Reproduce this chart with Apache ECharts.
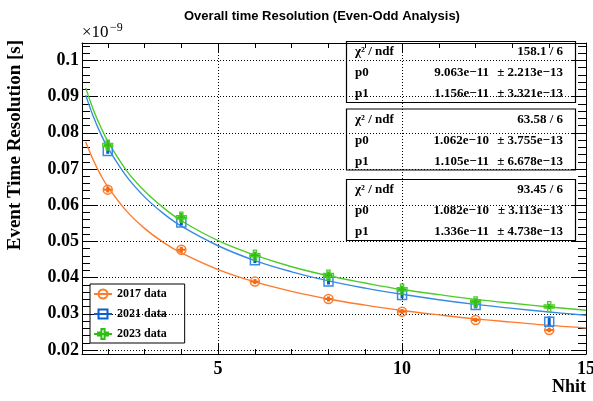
<!DOCTYPE html>
<html>
<head>
<meta charset="utf-8">
<script src="https://cdn.jsdelivr.net/npm/echarts@6/dist/echarts.min.js"></script>
<style>
  html, body { margin: 0; padding: 0; background: #fff; }
  #chart { width: 593px; height: 401px; }
</style>
</head>
<body>
<div id="chart"></div>
<script>
// measured points (x1e-9 s)
const nhit = [2, 4, 6, 8, 10, 12, 14];
const res2017 = [0.0643, 0.0477, 0.0389, 0.0341, 0.0306, 0.0283, 0.0255];
const res2021 = [0.0750, 0.0552, 0.0448, 0.0389, 0.0352, 0.0324, 0.0278];
const res2023 = [0.0766, 0.0567, 0.0462, 0.0407, 0.0368, 0.0333, 0.0320];
const err2017 = [0.0008, 0.0008, 0.0007, 0.0007, 0.0007, 0.0006, 0.0006];
const err2021 = [0.0008, 0.0008, 0.0008, 0.0008, 0.0009, 0.0009, 0.0015];
const err2023 = [0.0013, 0.0012, 0.0010, 0.0010, 0.0010, 0.0010, 0.0008];

// fitted curves
const fitX = [1.4, 1.6, 1.8, 2, 2.5, 3, 3.5, 4, 5, 6, 7, 8, 9, 10, 11, 12, 13, 14, 15];
const fit2017 = [0.0775, 0.0726, 0.0685, 0.0651, 0.0585, 0.0536, 0.0498, 0.0468, 0.0422, 0.0388, 0.0362, 0.0341, 0.0324, 0.0309, 0.0297, 0.0286, 0.0277, 0.0268, 0.0261];
const fit2021 = [0.0904, 0.0847, 0.0799, 0.0759, 0.0681, 0.0623, 0.0578, 0.0542, 0.0488, 0.0447, 0.0416, 0.0391, 0.0371, 0.0354, 0.0339, 0.0326, 0.0315, 0.0305, 0.0296];
const fit2023 = [0.0924, 0.0866, 0.0818, 0.0777, 0.0697, 0.0639, 0.0594, 0.0557, 0.0502, 0.0462, 0.0430, 0.0405, 0.0385, 0.0367, 0.0353, 0.0340, 0.0329, 0.0319, 0.0310];

// stat boxes
const chi2Ndf = ['158.1 / 6', '63.58 / 6', '93.45 / 6'];
const p0Val = ['9.063e\u221211', '1.062e\u221210', '1.082e\u221210'];
const p0Err = ['\u00b1 2.213e\u221213', '\u00b1 3.755e\u221213', '\u00b1 3.113e\u221213'];
const p1Val = ['1.156e\u221211', '1.105e\u221211', '1.336e\u221211'];
const p1Err = ['\u00b1 3.321e\u221213', '\u00b1 6.678e\u221213', '\u00b1 4.738e\u221213'];

// axis ticks
const xMajor = [5, 10, 15];
const xMinor = [2, 3, 4, 6, 7, 8, 9, 11, 12, 13, 14];
const yMajor = [0.02, 0.03, 0.04, 0.05, 0.06, 0.07, 0.08, 0.09, 0.1];
const yMinor = [];
for (let i = 10; i <= 52; i++) {
  if (i % 5 !== 0) yMinor.push(+(i * 0.002).toFixed(3));
}

const ORANGE = '#ff7b2c', ORANGE_D = '#f26a10';
const BLUE = '#3a8ae4', BLUE_D = '#0a5fcc';
const GREEN = '#4ccc2a', GREEN_D = '#2fbf10';
const SERIF = 'Liberation Serif';

const X_MIN = 1.3, X_MAX = 15, Y_MIN = 0.0189, Y_MAX = 0.1048;

function pointRenderer(kind, color, dark) {
  return function (params, api) {
    const x = api.value(0), y = api.value(1), e = api.value(2);
    const c = api.coord([x, y]);
    const top = api.coord([x, y + e])[1];
    const bot = api.coord([x, y - e])[1];
    const kids = [{
      type: 'line',
      shape: { x1: c[0], y1: top, x2: c[0], y2: bot },
      style: { stroke: dark, lineWidth: 3 }
    }];
    if (kind === 'circle') {
      kids.push({ type: 'line', shape: { x1: c[0] - 4, y1: c[1], x2: c[0] + 4, y2: c[1] }, style: { stroke: dark, lineWidth: 2 } });
      kids.push({ type: 'circle', shape: { cx: c[0], cy: c[1], r: 4.5 }, style: { fill: 'none', stroke: color, lineWidth: 1.5 } });
    } else if (kind === 'square') {
      kids.push({ type: 'rect', shape: { x: c[0] - 4.5, y: c[1] - 4.5, width: 9, height: 9 }, style: { fill: 'none', stroke: color, lineWidth: 1.5 } });
    } else {
      const a = 1.6, b = 5;
      const pts = [[-a, -b], [a, -b], [a, -a], [b, -a], [b, a], [a, a], [a, b], [-a, b], [-a, a], [-b, a], [-b, -a], [-a, -a]]
        .map(p => [c[0] + p[0], c[1] + p[1]]);
      kids.push({ type: 'line', shape: { x1: c[0] - 4, y1: c[1], x2: c[0] + 4, y2: c[1] }, style: { stroke: dark, lineWidth: 2 } });
      kids.push({ type: 'polygon', shape: { points: pts }, style: { fill: 'none', stroke: color, lineWidth: 1.3 } });
    }
    return { type: 'group', children: kids };
  };
}

function pointData(ys, errs) {
  return nhit.map((x, i) => [x, ys[i], errs[i]]);
}
function curveData(ys) {
  return fitX.map((x, i) => [x, ys[i]]);
}

function fitSeries(name, ys, color) {
  return {
    name: name,
    type: 'line',
    data: curveData(ys),
    smooth: 0.4,
    showSymbol: false,
    silent: true,
    lineStyle: { color: color, width: 1.4 },
    z: 2
  };
}

function dataSeries(name, ys, errs, kind, color, dark) {
  return {
    name: name,
    type: 'custom',
    data: pointData(ys, errs),
    encode: { x: 0, y: 1 },
    renderItem: pointRenderer(kind, color, dark),
    itemStyle: { color: color },
    z: 3
  };
}

// stat boxes on the right
const boxTops = [41, 108.5, 179];
const statFont = 'bold 13px "' + SERIF + '"';
const statGraphics = [];
boxTops.forEach((t, i) => {
  statGraphics.push({
    type: 'rect',
    shape: { x: 346.5, y: t + 0.5, width: 229, height: 61 },
    style: { fill: 'none', stroke: '#000', lineWidth: 1.2 }
  });
  const rows = [
    ['\u03c7\u00b2 / ndf', null, chi2Ndf[i]],
    ['p0', p0Val[i], p0Err[i]],
    ['p1', p1Val[i], p1Err[i]]
  ];
  rows.forEach((r, k) => {
    const cy = t + 11 + k * 21;
    statGraphics.push({ type: 'text', style: { text: r[0], x: 355, y: cy, font: statFont, fill: '#000', align: 'left', verticalAlign: 'middle' } });
    if (r[1]) {
      statGraphics.push({ type: 'text', style: { text: r[1], x: 489, y: cy, font: statFont, fill: '#000', align: 'right', verticalAlign: 'middle' } });
    }
    statGraphics.push({ type: 'text', style: { text: r[2], x: 563, y: cy, font: statFont, fill: '#000', align: 'right', verticalAlign: 'middle' } });
  });
});

const dotted = { color: '#000', width: 1, type: [1, 2] };

const option = {
  animation: false,
  backgroundColor: '#fff',
  title: {
    text: 'Overall time Resolution (Even-Odd Analysis)',
    left: 179,
    top: 5,
    textStyle: { fontFamily: 'Liberation Sans', fontWeight: 'bold', fontSize: 13, color: '#000' }
  },
  grid: { left: 82, right: 7, top: 43, bottom: 47, containLabel: false, outerBoundsMode: 'none' },
  legend: {
    left: 90,
    top: 284,
    orient: 'vertical',
    selectedMode: false,
    borderColor: '#000',
    borderWidth: 1,
    padding: [4, 18, 3, 3],
    itemWidth: 18,
    itemHeight: 12,
    itemGap: 8,
    textStyle: { fontFamily: SERIF, fontWeight: 'bold', fontSize: 12, color: '#000', lineHeight: 12 },
    data: [
      { name: '2017 data', icon: 'path://M0,6H18M13.5,6A4.5,4.5,0,1,1,4.5,6A4.5,4.5,0,1,1,13.5,6', itemStyle: { color: 'rgba(0,0,0,0)', borderColor: ORANGE, borderWidth: 2 } },
      { name: '2021 data', icon: 'path://M0,6H18M4.5,1.5H13.5V10.5H4.5Z', itemStyle: { color: 'rgba(0,0,0,0)', borderColor: BLUE_D, borderWidth: 2 } },
      { name: '2023 data', icon: 'path://M0,6H18M7.4,1H10.6V4.4H14V7.6H10.6V11H7.4V7.6H4V4.4H7.4Z', itemStyle: { color: 'rgba(0,0,0,0)', borderColor: GREEN_D, borderWidth: 2 } }
    ]
  },
  xAxis: [
    {
      type: 'value', position: 'bottom', min: X_MIN, max: X_MAX,
      axisLine: { show: true, onZero: false, lineStyle: { color: '#000', width: 1 } },
      axisTick: { show: true, inside: true, length: 10, customValues: xMajor, lineStyle: { color: '#000' } },
      axisLabel: { show: true, customValues: xMajor, margin: 6, fontFamily: SERIF, fontWeight: 'bold', fontSize: 18, color: '#000' },
      splitLine: { show: true, lineStyle: dotted },
      name: 'Nhit', nameLocation: 'end', nameGap: 0,
      nameTextStyle: { fontFamily: SERIF, fontWeight: 'bold', fontSize: 18, color: '#000', align: 'right', verticalAlign: 'top', padding: [24, 0, 0, 0] }
    },
    {
      type: 'value', position: 'bottom', min: X_MIN, max: X_MAX,
      axisLine: { show: false, onZero: false },
      axisTick: { show: true, inside: true, length: 5, customValues: xMinor, lineStyle: { color: '#000' } },
      axisLabel: { show: false }, splitLine: { show: false }
    },
    {
      type: 'value', position: 'top', min: X_MIN, max: X_MAX,
      axisLine: { show: true, onZero: false, lineStyle: { color: '#000', width: 1 } },
      axisTick: { show: true, inside: true, length: 10, customValues: xMajor, lineStyle: { color: '#000' } },
      axisLabel: { show: false }, splitLine: { show: false }
    },
    {
      type: 'value', position: 'top', min: X_MIN, max: X_MAX,
      axisLine: { show: false, onZero: false },
      axisTick: { show: true, inside: true, length: 5, customValues: xMinor, lineStyle: { color: '#000' } },
      axisLabel: { show: false }, splitLine: { show: false }
    }
  ],
  yAxis: [
    {
      type: 'value', position: 'left', min: Y_MIN, max: Y_MAX,
      axisLine: { show: true, onZero: false, lineStyle: { color: '#000', width: 1 } },
      axisTick: { show: true, inside: true, length: 15, customValues: yMajor, lineStyle: { color: '#000' } },
      axisLabel: {
        show: true, customValues: yMajor, margin: 3,
        fontFamily: SERIF, fontWeight: 'bold', fontSize: 18, color: '#000',
        formatter: v => String(+(+v).toFixed(2))
      },
      splitLine: { show: true, lineStyle: dotted }
    },
    {
      type: 'value', position: 'left', min: Y_MIN, max: Y_MAX,
      axisLine: { show: false, onZero: false },
      axisTick: { show: true, inside: true, length: 8, customValues: yMinor, lineStyle: { color: '#000' } },
      axisLabel: { show: false }, splitLine: { show: false }
    },
    {
      type: 'value', position: 'right', min: Y_MIN, max: Y_MAX,
      axisLine: { show: true, onZero: false, lineStyle: { color: '#000', width: 1 } },
      axisTick: { show: true, inside: true, length: 15, customValues: yMajor, lineStyle: { color: '#000' } },
      axisLabel: { show: false }, splitLine: { show: false }
    },
    {
      type: 'value', position: 'right', min: Y_MIN, max: Y_MAX,
      axisLine: { show: false, onZero: false },
      axisTick: { show: true, inside: true, length: 8, customValues: yMinor, lineStyle: { color: '#000' } },
      axisLabel: { show: false }, splitLine: { show: false }
    }
  ],
  graphic: [
    {
      type: 'text', x: 15, y: 40, rotation: Math.PI / 2,
      style: { text: 'Event Time Resolution [s]', font: 'bold 19px "' + SERIF + '"', fill: '#000', align: 'right', verticalAlign: 'middle' }
    },
    { type: 'text', style: { text: '\u00d710', x: 82, y: 41, font: '17px "' + SERIF + '"', fill: '#000', align: 'left', verticalAlign: 'bottom' } },
    { type: 'text', style: { text: '\u22129', x: 110, y: 34, font: '12px "' + SERIF + '"', fill: '#000', align: 'left', verticalAlign: 'bottom' } }
  ].concat(statGraphics),
  series: [
    fitSeries('2017 fit', fit2017, ORANGE),
    fitSeries('2021 fit', fit2021, BLUE),
    fitSeries('2023 fit', fit2023, GREEN),
    dataSeries('2017 data', res2017, err2017, 'circle', ORANGE, ORANGE_D),
    dataSeries('2021 data', res2021, err2021, 'square', BLUE, BLUE_D),
    dataSeries('2023 data', res2023, err2023, 'cross', GREEN, GREEN_D)
  ]
};

const chart = echarts.init(document.getElementById('chart'), null, { renderer: 'canvas' });
chart.setOption(option);
</script>
</body>
</html>
